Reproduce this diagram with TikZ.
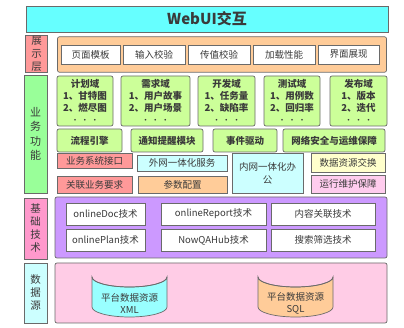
\documentclass[tikz,border=0pt]{standalone}
\usepackage{fontspec}
\setmainfont{Noto Sans CJK SC}
\definecolor{edgegray}{HTML}{6A6A6A}
\definecolor{textgray}{HTML}{3A3A3A}
\definecolor{titlecyan}{HTML}{66FFFF}
\definecolor{showred}{HTML}{FF9999}
\definecolor{showorange}{HTML}{FFCC99}
\definecolor{bizgreen}{HTML}{99FF99}
\definecolor{domgreen}{HTML}{CCFF99}
\definecolor{lightcyan}{HTML}{CCFFFF}
\definecolor{lightyellow}{HTML}{FFFFCC}
\definecolor{lightpink}{HTML}{FFCCEE}
\definecolor{basepink}{HTML}{FF99CC}
\definecolor{basepurple}{HTML}{CC99FF}
\definecolor{datapink}{HTML}{FFCCE6}
\definecolor{xmlcyan}{HTML}{99FFFF}
\newcommand{\moredots}{{\fontsize{6}{6}\selectfont •\hspace{4pt}•\hspace{4pt}•}}
\begin{document}
\begin{tikzpicture}[x=1pt, y=-1pt,
    box/.style={draw=edgegray, line width=0.7pt, text=textgray, inner sep=1pt,
        font=\fontsize{9.5}{11}\selectfont},
    layer/.style={box, rounded corners=2pt},
    side/.style={box, align=center, font=\fontsize{10.5}{13}\selectfont},
    item/.style={box, fill=white},
    dom/.style={box, fill=domgreen, rounded corners=2pt, align=center,
        font=\bfseries\fontsize{9.5}{12}\selectfont}]
    \useasboundingbox (0,0) rectangle (404,328);

    % Title
    \node[box, fill=titlecyan, minimum width=362pt, minimum height=26pt,
        font=\bfseries\fontsize{15}{18}\selectfont] (title) at (207,19) {WebUI交互};

    % Presentation layer
    \node[side, fill=showred, minimum width=22pt, minimum height=35pt] (showlab) at (36.7,54.2) {展\\示\\层};
    \node[layer, fill=showorange, minimum width=329pt, minimum height=35.5pt] (showbox) at (222,54.5) {};
    \node[item, minimum width=59pt, minimum height=19pt] (ymmb) at (90.5,54.5) {页面模板};
    \node[item, minimum width=62pt, minimum height=19pt] (srjy) at (154,54.5) {输入校验};
    \node[item, minimum width=62pt, minimum height=19pt] (czjy) at (219,54.5) {传值校验};
    \node[item, minimum width=62pt, minimum height=19pt] (jzxn) at (284,54.5) {加载性能};
    \node[item, minimum width=61pt, minimum height=19pt] (jmzx) at (348.5,54.5) {界面展现};

    % Business functions
    \node[side, fill=bizgreen, minimum width=23pt, minimum height=118pt,
        font=\fontsize{11}{14.5}\selectfont] (bizlab) at (35.5,134) {业\\务\\功\\能};
    \node[dom, minimum width=56pt, minimum height=50pt] (plan) at (85,101)
        {计划域\\1、甘特图\\2、燃尽图\\[-1pt]\moredots};
    \node[dom, minimum width=69pt, minimum height=50pt] (req) at (155.5,101)
        {需求域\\1、用户故事\\2、用户场景\\[-1pt]\moredots};
    \node[dom, minimum width=57pt, minimum height=50pt] (dev) at (226.5,101)
        {开发域\\1、任务量\\2、缺陷率\\[-1pt]\moredots};
    \node[dom, minimum width=56pt, minimum height=50pt] (test) at (292,101)
        {测试域\\1、用例数\\2、回归率\\[-1pt]\moredots};
    \node[dom, minimum width=57pt, minimum height=50pt] (rel) at (358.5,101)
        {发布域\\1、版本\\2、迭代\\[-1pt]\moredots};

    \node[dom, minimum width=65pt, minimum height=23pt] (lcyq) at (89.5,140.5) {流程引擎};
    \node[dom, minimum width=72pt, minimum height=23pt] (tztx) at (167,140.5) {通知提醒模块};
    \node[dom, minimum width=64pt, minimum height=23pt] (sjqd) at (245,140.5) {事件驱动};
    \node[dom, minimum width=102pt, minimum height=23pt] (wlaq) at (334,140.5) {网络安全与运维保障};

    \node[box, fill=showred, minimum width=75pt, minimum height=15pt] (ywjk) at (94.5,160.5) {业务系统接口};
    \node[box, fill=lightcyan, minimum width=90pt, minimum height=16pt] (wwfw) at (182,163) {外网一体化服务};
    \node[box, fill=lightcyan, minimum width=71pt, minimum height=40pt,
        align=center, font=\fontsize{9.5}{13}\selectfont] (nwbg) at (267.5,173) {内网一体化办\\公};
    \node[box, fill=lightyellow, minimum width=74pt, minimum height=19pt] (sjjh) at (348,162.5) {数据资源交换};
    \node[box, fill=showred, minimum width=75pt, minimum height=17pt] (glyq) at (94.5,184.5) {关联业务要求};
    \node[box, fill=showorange, minimum width=89pt, minimum height=17pt] (cspz) at (182.5,184.5) {参数配置};
    \node[box, fill=lightpink, minimum width=74pt, minimum height=18pt] (yxwh) at (348,184) {运行维护保障};

    % Base technology
    \node[side, fill=basepink, minimum width=23pt, minimum height=61pt] (baselab) at (35.5,228.5) {基\\础\\技\\术};
    \node[layer, fill=basepurple, minimum width=332pt, minimum height=61pt] (basebox) at (221,227.5) {};
    \node[item, minimum width=79pt, minimum height=22pt] (doc) at (105.5,214) {onlineDoc技术};
    \node[item, minimum width=105pt, minimum height=22pt] (report) at (213.5,214) {onlineReport技术};
    \node[item, minimum width=104pt, minimum height=22pt] (nrgl) at (323,214) {内容关联技术};
    \node[item, minimum width=79pt, minimum height=22pt] (plantech) at (105.5,240) {onlinePlan技术};
    \node[item, minimum width=105pt, minimum height=22pt] (hub) at (213.5,240) {NowQAHub技术};
    \node[item, minimum width=104pt, minimum height=22pt] (sssx) at (323,240) {搜索筛选技术};

    % Data sources
    \node[side, fill=lightcyan, minimum width=23pt, minimum height=60pt] (datalab) at (35.5,293) {数\\据\\源};
    \node[layer, fill=datapink, minimum width=332pt, minimum height=60pt] (databox) at (221,293) {};
    \filldraw[draw=edgegray, line width=0.7pt, fill=xmlcyan] (92,277) -- (92,307)
        arc[start angle=180, end angle=0, x radius=37.5, y radius=10] -- (167,277)
        arc[start angle=0, end angle=180, x radius=37.5, y radius=10] -- cycle;
    \draw[edgegray, line width=0.7pt] (92,277) arc[start angle=180, end angle=0, x radius=37.5, y radius=10];
    \filldraw[draw=edgegray, line width=0.7pt, fill=showorange] (258,277) -- (258,307)
        arc[start angle=180, end angle=0, x radius=37.5, y radius=10] -- (333,277)
        arc[start angle=0, end angle=180, x radius=37.5, y radius=10] -- cycle;
    \draw[edgegray, line width=0.7pt] (258,277) arc[start angle=180, end angle=0, x radius=37.5, y radius=10];
    \node[align=center, text=textgray, font=\fontsize{9.5}{12}\selectfont] (xml) at (129.5,303) {平台数据资源\\XML};
    \node[align=center, text=textgray, font=\fontsize{9.5}{12}\selectfont] (sql) at (295.5,303) {平台数据资源\\SQL};
\end{tikzpicture}
\end{document}
